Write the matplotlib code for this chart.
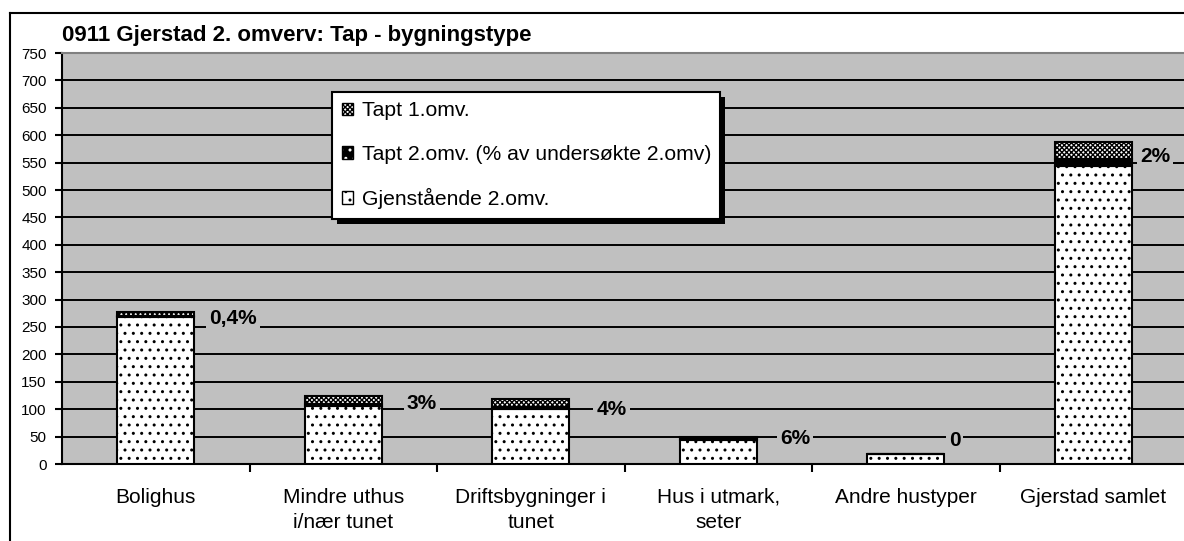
import matplotlib
matplotlib.use("Agg")
import matplotlib.pyplot as plt
from matplotlib.patches import Patch, Rectangle
from matplotlib.lines import Line2D
from matplotlib.legend_handler import HandlerTuple
import numpy as np

plt.rcParams['font.family'] = ['Liberation Sans', 'DejaVu Sans']
plt.rcParams['hatch.linewidth'] = 1.0

# ---- data ----
title = "0911 Gjerstad 2. omverv: Tap - bygningstype"
categories = ["Bolighus", "Mindre uthus\ni/nær tunet", "Driftsbygninger i\ntunet",
              "Hus i utmark,\nseter", "Andre hustyper", "Gjerstad samlet"]
gjenstaaende = [268, 105, 100, 44, 19, 544]
tapt2 = [2, 4, 4, 3, 0, 12]
tapt1 = [8, 16, 14, 3, 0, 31]
series_names = ["Tapt 1.omv.", "Tapt 2.omv. (% av undersøkte 2.omv)", "Gjenstående 2.omv."]
pct_labels = ["0,4%", "3%", "4%", "6%", "0", "2%"]
pct_label_y = [266, 111, 100, 47, 42, 562]
pct_label_dx = [0.41, 0.42, 0.43, 0.41, 0.26, 0.33]
yticks = list(range(0, 751, 50))

W, H = 1184, 541
fig = plt.figure(figsize=(W / 100, H / 100), dpi=100)
fig.patch.set_facecolor('white')

ax = fig.add_axes([62 / W, 77 / H, 1125 / W, 411 / H])
ax.set_facecolor('#C0C0C0')

x = np.arange(len(categories))
g = np.array(gjenstaaende, float)
t2 = np.array(tapt2, float)
t1 = np.array(tapt1, float)
bw = 0.41
checker = 'xxxxxxx'

# bottom segment: white with black dots
ax.bar(x, g, bw, color='white', edgecolor='black', hatch='..', linewidth=1.5, zorder=3)
# middle segment: black with white dots
ax.bar(x, t2, bw, bottom=g, color='black', edgecolor='white', hatch='..', linewidth=0, zorder=3)
ax.bar(x, t2, bw, bottom=g, fill=False, edgecolor='black', linewidth=1.5, zorder=4)
# top segment: dense checker
ax.bar(x, t1, bw, bottom=g + t2, color='white', edgecolor='black', hatch=checker,
       linewidth=1.5, zorder=3)

# percentage labels
for i, (lab, ly, dx) in enumerate(zip(pct_labels, pct_label_y, pct_label_dx)):
    ax.text(i + dx, ly, lab, ha='center', va='center', fontsize=15, fontweight='bold',
            zorder=5, bbox=dict(boxstyle='square,pad=0.15', fc='#C0C0C0', ec='none'))

ax.set_xlim(-0.5, len(categories) - 0.5)
ax.set_ylim(0, 750)
ax.set_yticks(yticks)
ax.set_yticklabels([str(v) for v in yticks], fontsize=11)
ax.yaxis.grid(True, color='black', linewidth=1.4, zorder=1)
ax.set_axisbelow(True)

ax.set_xticks(x)
ax.set_xticklabels(categories, fontsize=15, linespacing=1.45)
ax.set_xticks(np.arange(0.5, len(categories) - 0.5, 1.0), minor=True)
ax.tick_params(axis='x', which='major', length=0, pad=17)
ax.tick_params(axis='x', which='minor', length=6, width=1.5, direction='out', color='black')
ax.tick_params(axis='y', length=5, width=1.5, direction='out', pad=6)

for s in ['left', 'bottom']:
    ax.spines[s].set_color('black')
    ax.spines[s].set_linewidth(1.5)
ax.spines['top'].set_color('#808080')
ax.spines['top'].set_linewidth(1.5)
ax.spines['right'].set_visible(False)

# legend
h_t1 = Patch(facecolor='white', edgecolor='black', hatch=checker, linewidth=1)
h_t2 = (Patch(facecolor='black', edgecolor='white', hatch='..', linewidth=0),
        Patch(fill=False, edgecolor='black', linewidth=1))
h_g = Patch(facecolor='white', edgecolor='black', hatch='..', linewidth=1)
leg = ax.legend([h_t1, h_t2, h_g], series_names, loc='upper left',
                bbox_to_anchor=((332 - 62) / 1125, (464 - 92) / 411), borderaxespad=0,
                fontsize=15.2, handlelength=0.55, handleheight=0.55, handletextpad=0.4,
                labelspacing=1.15, borderpad=0.45, fancybox=False, framealpha=1,
                edgecolor='black', frameon=True,
                handler_map={tuple: HandlerTuple(ndivide=1, pad=0)})
leg.get_frame().set_linewidth(1.5)
leg.set_zorder(11)

# title
fig.text(62 / W, 1 - 35 / H, title, ha='left', va='center', fontsize=16, fontweight='bold')

# outer frame (left and top edges)
fig.add_artist(Line2D([9.5 / W, 9.5 / W], [0, 1 - 12.5 / H], color='black', lw=1.5,
                      transform=fig.transFigure))
fig.add_artist(Line2D([9.5 / W, 1], [1 - 12.5 / H, 1 - 12.5 / H], color='black', lw=1.5,
                      transform=fig.transFigure))

# legend shadow (drawn inside the axes, beneath the legend)
fig.canvas.draw()
bb = leg.get_frame().get_window_extent()
inv = ax.transAxes.inverted()
(ax0, ay0) = inv.transform((bb.x0 + 5, bb.y0 - 5))
(ax1, ay1) = inv.transform((bb.x1 + 5, bb.y1 - 5))
shadow = Rectangle((ax0, ay0), ax1 - ax0, ay1 - ay0, transform=ax.transAxes,
                   facecolor='black', edgecolor='none', zorder=10, clip_on=False)
ax.add_patch(shadow)

fig.savefig("out.png", dpi=100)
